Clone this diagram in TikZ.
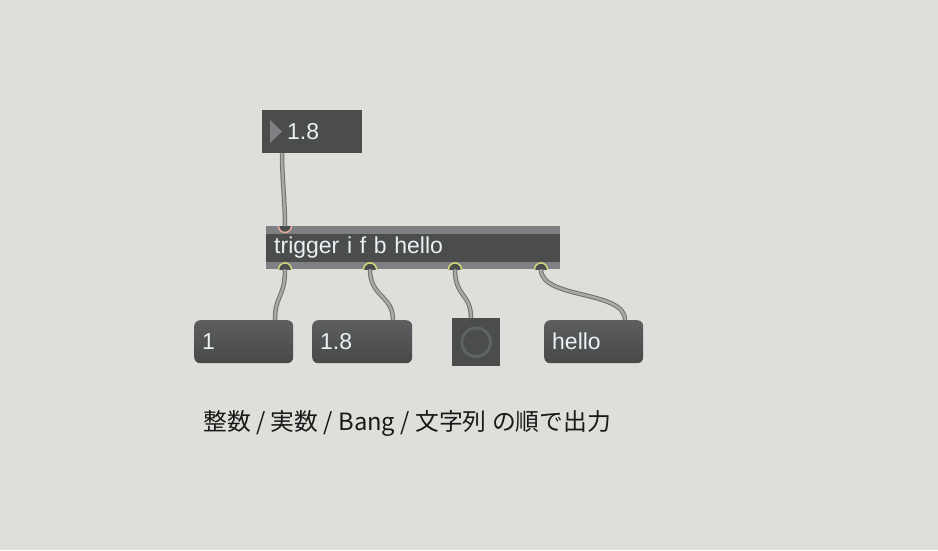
\documentclass[tikz,border=0pt]{standalone}
\usepackage{fontspec}
\setmainfont{Liberation Sans}
\newfontfamily\jpfont{Noto Sans CJK JP}
\usetikzlibrary{positioning}
\definecolor{bg}{RGB}{222,223,218}
\definecolor{boxgray}{RGB}{74,77,76}
\definecolor{stripgray}{RGB}{127,128,132}
\definecolor{boxtop}{RGB}{92,94,95}
\definecolor{boxbot}{RGB}{71,73,73}
\definecolor{boxtext}{RGB}{236,239,243}
\definecolor{cablegray}{RGB}{168,168,166}
\definecolor{cabledark}{RGB}{112,112,112}
\definecolor{inpink}{RGB}{232,168,160}
\definecolor{outyellow}{RGB}{212,214,124}
\definecolor{ringgray}{RGB}{96,99,100}

\begin{document}
\begin{tikzpicture}
[x=1pt,y=-1pt,
maxfont/.style={font=\fontsize{23}{27}\selectfont, text=boxtext},
numbox/.style={maxfont, fill=boxgray, anchor=north west, inner ysep=0pt,
  minimum height=43pt, align=left},
msgbox/.style={maxfont, top color=boxtop, bottom color=boxbot, rounded corners=6pt,
  anchor=north west, inner ysep=0pt, inner xsep=8pt, text width=83pt,
  minimum height=43pt, align=left},
objbox/.style={maxfont, fill=stripgray, anchor=north west, inner ysep=0pt,
  inner xsep=8pt, text width=278pt, minimum height=43pt, align=left,
  path picture={\fill[boxgray] ([yshift=-8pt]path picture bounding box.north west)
    rectangle ([yshift=7pt]path picture bounding box.south east);}},
inlet/.style={draw=inpink, fill=boxgray, line width=1.5pt},
outlet/.style={draw=outyellow, fill=boxgray, line width=1.5pt},
cable/.style={draw=cabledark, line width=1pt, double=cablegray, double distance=2.5pt}]
  % background
  \fill[bg] (0,0) rectangle (938,550);
  % float number box
  \node[numbox, inner xsep=25pt, text width=50pt] (num) at (262,110) {1.8};
  \fill[stripgray] ([xshift=8pt,yshift=-10pt]num.north west) --
    ([xshift=20pt,yshift=-21.5pt]num.north west) --
    ([xshift=8pt,yshift=-33pt]num.north west) -- cycle;
  % trigger object
  \node[objbox] (trig) at (266,226) {trigger i f b hello};
  % outputs
  \node[msgbox] (int) at (194,320) {1};
  \node[msgbox, text width=84pt] (flt) at (312,320) {1.8};
  \node[numbox, minimum width=48pt, minimum height=48pt] (bang) at (452,318) {};
  \draw[ringgray, line width=3pt] (bang.center) circle (14.3pt);
  \node[msgbox] (str) at (544,320) {hello};
  % inlets and outlets
  \coordinate (numout) at ([xshift=20pt]num.south west);
  \coordinate (trigin) at ([xshift=19pt]trig.north west);
  \coordinate (out1) at ([xshift=19pt]trig.south west);
  \coordinate (out2) at ([xshift=104pt]trig.south west);
  \coordinate (out3) at ([xshift=189pt]trig.south west);
  \coordinate (out4) at ([xshift=275pt]trig.south west);
  \coordinate (intin) at ([xshift=81pt]int.north west);
  \coordinate (fltin) at ([xshift=81pt]flt.north west);
  \coordinate (bangin) at ([xshift=19pt]bang.north west);
  \coordinate (strin) at ([xshift=81pt]str.north west);
  \begin{scope}
    \clip (trig.north west) rectangle (trig.south east);
    \draw[inlet] (trigin) circle (6.5pt);
    \foreach \o in {out1,out2,out3,out4}
      \draw[outlet] (\o) circle (6.5pt);
  \end{scope}
  % patch cords
  \draw[cable] (numout) .. controls +(0,25) and +(0,-25) .. (trigin);
  \draw[cable] (out1) .. controls +(0,28) and +(0,-25) .. (intin);
  \draw[cable] (out2) .. controls +(0,28) and +(0,-25) .. (fltin);
  \draw[cable] (out3) .. controls +(0,28) and +(0,-25) .. (bangin);
  \draw[cable] (out4) .. controls +(0,30) and +(0,-30) .. (strin);
  % comment
  \node[anchor=base west, inner sep=0pt, text=black!90,
    font=\jpfont\fontsize{23.8}{28}\selectfont]
    (note) at (203,430) {整数 / 実数 / Bang / 文字列 の順で出力};
\end{tikzpicture}
\end{document}
